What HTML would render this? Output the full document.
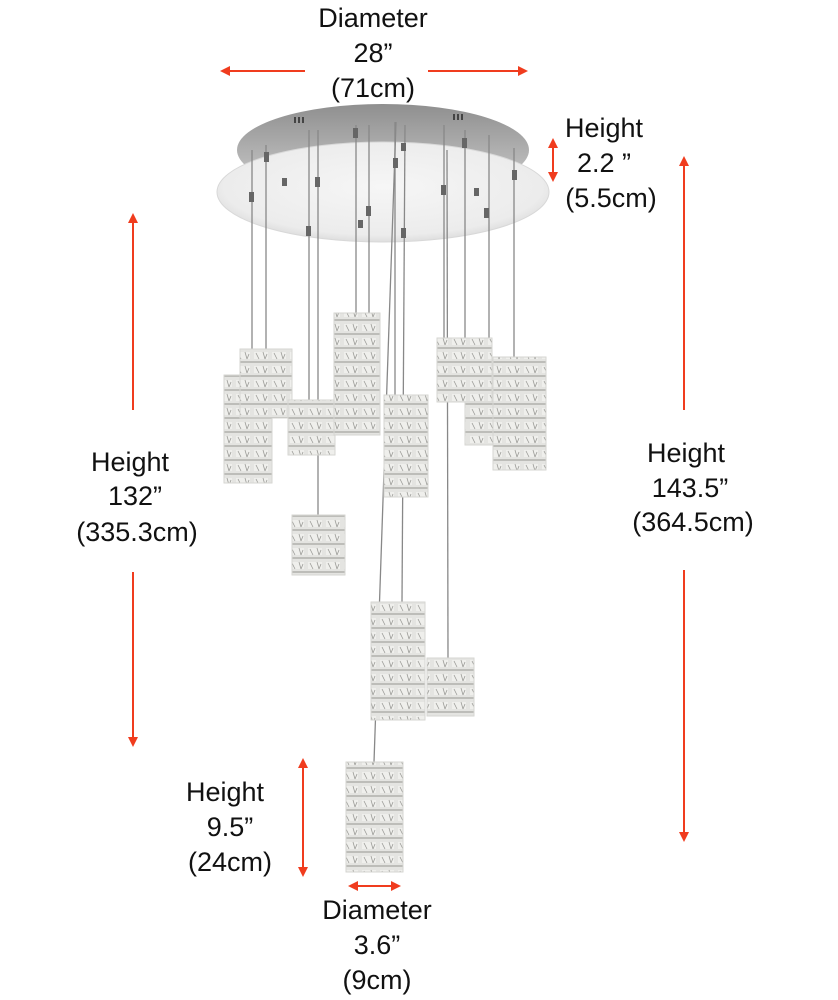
<!DOCTYPE html>
<html><head><meta charset="utf-8">
<style>
html,body{margin:0;padding:0;background:#fff;}
svg{display:block;}
text{font-family:"Liberation Sans",Arial,sans-serif;font-size:27px;fill:#111;text-anchor:middle;}
</style></head><body>
<svg width="838" height="1000" viewBox="0 0 838 1000" xmlns="http://www.w3.org/2000/svg">
<defs>
<marker id="ah" markerWidth="10" markerHeight="10" refX="8" refY="5" orient="auto-start-reverse" markerUnits="userSpaceOnUse">
<path d="M0,0 L10,5 L0,10 Z" fill="#f03c1e"/>
</marker>
<pattern id="cry" width="18" height="14" patternUnits="userSpaceOnUse">
<rect width="18" height="14" fill="#e4e4e1"/>
<rect x="2" y="2" width="14" height="7" fill="#efefec"/>
<rect y="11" width="18" height="2" fill="#bdbdb9"/>
<path d="M4,3 l3,6 M11,2 l2,7 M15,4 l-2,5" stroke="#9c9c98" stroke-width="0.8"/>
</pattern>
<linearGradient id="rim" x1="0" x2="0" y1="0" y2="1">
<stop offset="0" stop-color="#8f8f8f"/><stop offset="1" stop-color="#cfcfcf"/>
</linearGradient>
<radialGradient id="face" cx="0.5" cy="0.45" r="0.6">
<stop offset="0" stop-color="#f6f6f6"/><stop offset="0.8" stop-color="#ececec"/><stop offset="1" stop-color="#d4d4d4"/>
</radialGradient>
</defs>

<!-- canopy -->
<ellipse cx="383" cy="150" rx="146" ry="46" fill="url(#rim)"/>
<ellipse cx="383" cy="192" rx="166" ry="50" fill="url(#face)" stroke="#d8d8d8"/>
<g fill="#444"><rect x="294" y="117" width="2" height="6"/><rect x="298" y="117" width="2" height="6"/><rect x="302" y="117" width="2" height="6"/>
<rect x="453" y="114" width="2" height="6"/><rect x="457" y="114" width="2" height="6"/><rect x="461" y="114" width="2" height="6"/></g>

<!-- wires -->
<g stroke="#888" stroke-width="1.3">
<line x1="252" y1="150" x2="252" y2="378"/>
<line x1="266" y1="145" x2="266" y2="350"/>
<line x1="309" y1="130" x2="309" y2="400"/>
<line x1="318" y1="130" x2="318" y2="515"/>
<line x1="356" y1="125" x2="356" y2="314"/>
<line x1="369" y1="125" x2="369" y2="314"/>
<line x1="395" y1="122" x2="395" y2="395"/>
<line x1="396" y1="122" x2="374" y2="762"/>
<line x1="405" y1="125" x2="402" y2="602"/>
<line x1="444" y1="125" x2="444" y2="338"/>
<line x1="465" y1="130" x2="465" y2="338"/>
<line x1="489" y1="135" x2="489" y2="390"/>
<line x1="514" y1="148" x2="514" y2="357"/>
<line x1="447" y1="150" x2="448" y2="658"/>
</g>
<g fill="#666">
<rect x="264" y="152" width="5" height="10"/><rect x="249" y="192" width="5" height="10"/><rect x="306" y="226" width="5" height="10"/>
<rect x="315" y="177" width="5" height="10"/><rect x="353" y="128" width="5" height="10"/><rect x="393" y="158" width="5" height="10"/>
<rect x="366" y="206" width="5" height="10"/><rect x="401" y="228" width="5" height="10"/><rect x="441" y="185" width="5" height="10"/>
<rect x="462" y="138" width="5" height="10"/><rect x="484" y="208" width="5" height="10"/><rect x="512" y="170" width="5" height="10"/>
<rect x="282" y="178" width="5" height="8"/><rect x="401" y="143" width="5" height="8"/><rect x="474" y="188" width="5" height="8"/><rect x="358" y="220" width="5" height="8"/>
</g>

<!-- pendants -->
<g fill="url(#cry)" stroke="#d6d6d2" stroke-width="1">
<rect x="224" y="375" width="48" height="108"/>
<rect x="240" y="349" width="52" height="69"/>
<rect x="288" y="400" width="47" height="55"/>
<rect x="334" y="313" width="46" height="122"/>
<rect x="384" y="395" width="44" height="102"/>
<rect x="465" y="390" width="40" height="55"/>
<rect x="437" y="338" width="55" height="64"/>
<rect x="493" y="357" width="53" height="113"/>
<rect x="292" y="515" width="53" height="60"/>
<rect x="371" y="602" width="54" height="118"/>
<rect x="427" y="658" width="47" height="58"/>
<rect x="346" y="762" width="57" height="110"/>
</g>

<!-- arrows -->
<g stroke="#f03c1e" stroke-width="2" fill="none">
<line x1="305" y1="71" x2="222" y2="71" marker-end="url(#ah)"/>
<line x1="428" y1="71" x2="526" y2="71" marker-end="url(#ah)"/>
<line x1="553" y1="140" x2="553" y2="180" marker-start="url(#ah)" marker-end="url(#ah)"/>
<line x1="133" y1="410" x2="133" y2="215" marker-end="url(#ah)"/>
<line x1="133" y1="572" x2="133" y2="745" marker-end="url(#ah)"/>
<line x1="684" y1="410" x2="684" y2="158" marker-end="url(#ah)"/>
<line x1="684" y1="570" x2="684" y2="840" marker-end="url(#ah)"/>
<line x1="303" y1="760" x2="303" y2="875" marker-start="url(#ah)" marker-end="url(#ah)"/>
<line x1="350" y1="886" x2="399" y2="886" marker-start="url(#ah)" marker-end="url(#ah)"/>
</g>

<!-- labels -->
<text x="373" y="27">Diameter</text>
<text x="373" y="62">28”</text>
<text x="373" y="97">(71cm)</text>
<text x="604" y="137">Height</text>
<text x="604" y="172">2.2 ”</text>
<text x="611" y="207">(5.5cm)</text>
<text x="130" y="471">Height</text>
<text x="135" y="505">132”</text>
<text x="137" y="541">(335.3cm)</text>
<text x="686" y="462">Height</text>
<text x="690" y="497">143.5”</text>
<text x="693" y="531">(364.5cm)</text>
<text x="225" y="801">Height</text>
<text x="230" y="836">9.5”</text>
<text x="230" y="871">(24cm)</text>
<text x="377" y="919">Diameter</text>
<text x="377" y="954">3.6”</text>
<text x="377" y="989">(9cm)</text>
</svg>
</body></html>
